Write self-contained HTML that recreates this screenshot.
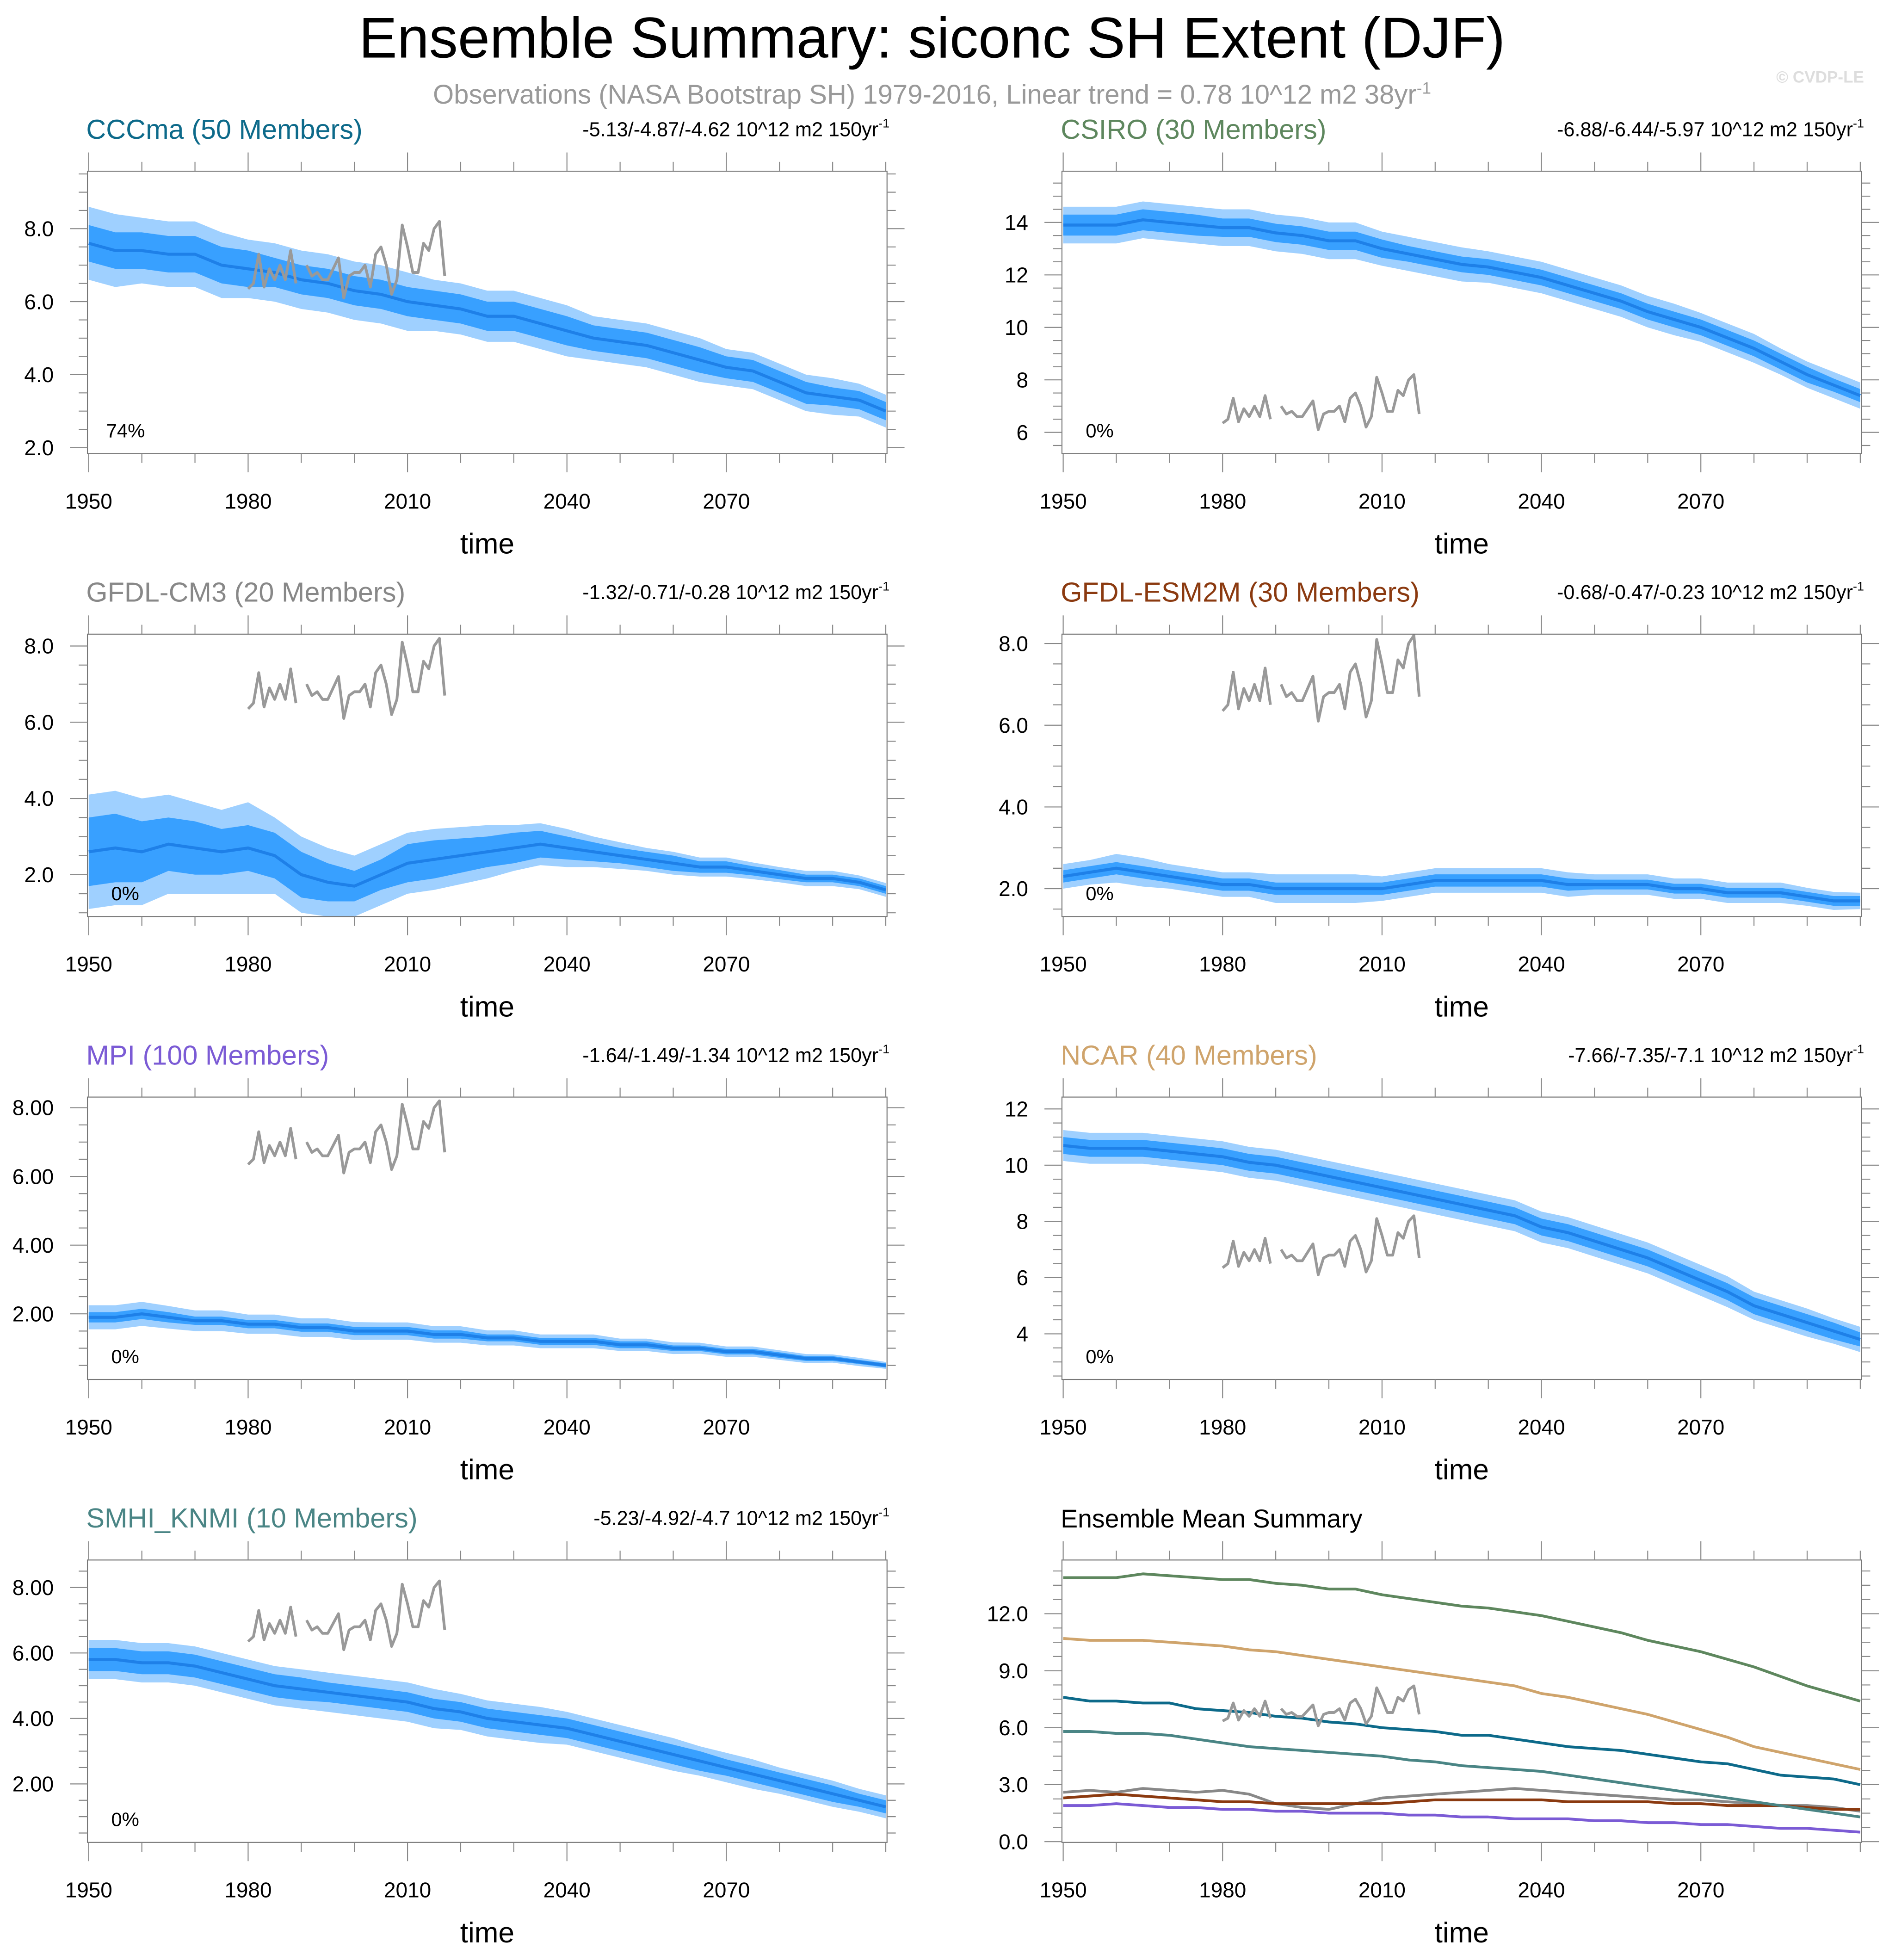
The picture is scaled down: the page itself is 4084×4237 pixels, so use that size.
<!DOCTYPE html>
<html><head><meta charset="utf-8"><style>
html,body{margin:0;padding:0;background:#fff;}
svg{display:block;font-family:"Liberation Sans",sans-serif;}
</style></head><body>
<svg id="chart" width="4084" height="4237" viewBox="0 0 1512 1568.6" xmlns="http://www.w3.org/2000/svg">
<rect x="0" y="0" width="1512" height="1568.6" fill="#fff"/>
<text x="746" y="46" font-size="46" text-anchor="middle" fill="#000">Ensemble Summary: siconc SH Extent (DJF)</text>
<text x="746" y="83" font-size="21.5" text-anchor="middle" fill="#999">Observations (NASA Bootstrap SH) 1979-2016, Linear trend = 0.78 10^12 m2 38yr<tspan dy="-8" font-size="13">-1</tspan></text>
<text x="1492" y="66" font-size="13" font-weight="bold" text-anchor="end" fill="#ddd">© CVDP-LE</text>
<g id="panels"></g>
</svg>
<script>
// 5-year sampled values, 1950..2100
const years5 = [1950,1955,1960,1965,1970,1975,1980,1985,1990,1995,2000,2005,2010,2015,2020,2025,2030,2035,2040,2045,2050,2055,2060,2065,2070,2075,2080,2085,2090,2095,2100];
const cccmaMean = [7.6,7.4,7.4,7.3,7.3,7.0,6.9,6.8,6.6,6.5,6.3,6.2,6.0,5.9,5.8,5.6,5.6,5.4,5.2,5.0,4.9,4.8,4.6,4.4,4.2,4.1,3.8,3.5,3.4,3.3,3.0];
const csiroMean = [13.9,13.9,13.9,14.1,14.0,13.9,13.8,13.8,13.6,13.5,13.3,13.3,13.0,12.8,12.6,12.4,12.3,12.1,11.9,11.6,11.3,11.0,10.6,10.3,10.0,9.6,9.2,8.7,8.2,7.8,7.4];
const gfdlcm3Mean = [2.6,2.7,2.6,2.8,2.7,2.6,2.7,2.5,2.0,1.8,1.7,2.0,2.3,2.4,2.5,2.6,2.7,2.8,2.7,2.6,2.5,2.4,2.3,2.2,2.2,2.1,2.0,1.9,1.9,1.8,1.6];
const gfdlesmMean = [2.3,2.4,2.5,2.4,2.3,2.2,2.1,2.1,2.0,2.0,2.0,2.0,2.0,2.1,2.2,2.2,2.2,2.2,2.2,2.1,2.1,2.1,2.1,2.0,2.0,1.9,1.9,1.9,1.8,1.7,1.7];
const mpiMean = [1.9,1.9,2.0,1.9,1.8,1.8,1.7,1.7,1.6,1.6,1.5,1.5,1.5,1.4,1.4,1.3,1.3,1.2,1.2,1.2,1.1,1.1,1.0,1.0,0.9,0.9,0.8,0.7,0.7,0.6,0.5];
const ncarMean = [10.7,10.6,10.6,10.6,10.5,10.4,10.3,10.1,10.0,9.8,9.6,9.4,9.2,9.0,8.8,8.6,8.4,8.2,7.8,7.6,7.3,7.0,6.7,6.3,5.9,5.5,5.0,4.7,4.4,4.1,3.8];
const smhiMean = [5.8,5.8,5.7,5.7,5.6,5.4,5.2,5.0,4.9,4.8,4.7,4.6,4.5,4.3,4.2,4.0,3.9,3.8,3.7,3.5,3.3,3.1,2.9,2.7,2.5,2.3,2.1,1.9,1.7,1.5,1.3];
const cccmaInner = [0.5,0.5,0.5,0.5,0.5,0.5,0.5,0.4,0.4,0.4,0.4,0.4,0.4,0.4,0.4,0.4,0.4,0.4,0.4,0.35,0.35,0.35,0.35,0.35,0.3,0.3,0.3,0.3,0.25,0.25,0.25];
const cccmaOuter = [1.0,1.0,0.9,0.9,0.9,0.9,0.8,0.8,0.8,0.8,0.8,0.8,0.8,0.7,0.7,0.7,0.7,0.7,0.7,0.6,0.6,0.6,0.6,0.6,0.5,0.5,0.5,0.5,0.5,0.45,0.45];
const csiroInner = [0.4,0.4,0.4,0.4,0.4,0.4,0.35,0.35,0.35,0.35,0.35,0.35,0.35,0.3,0.3,0.3,0.3,0.3,0.3,0.3,0.3,0.3,0.3,0.3,0.3,0.3,0.3,0.3,0.3,0.25,0.25];
const csiroOuter = [0.7,0.7,0.7,0.7,0.7,0.7,0.7,0.7,0.7,0.7,0.7,0.7,0.65,0.65,0.65,0.65,0.6,0.6,0.6,0.6,0.6,0.6,0.6,0.6,0.55,0.55,0.55,0.5,0.5,0.5,0.5];
const gfdlcm3Inner = [0.9,0.9,0.8,0.7,0.7,0.6,0.6,0.6,0.6,0.5,0.4,0.4,0.5,0.5,0.45,0.4,0.4,0.35,0.3,0.25,0.2,0.2,0.2,0.15,0.15,0.12,0.12,0.1,0.1,0.1,0.1];
const gfdlcm3Outer = [1.5,1.5,1.4,1.3,1.2,1.1,1.2,1.0,1.0,0.9,0.8,0.8,0.8,0.8,0.75,0.7,0.6,0.55,0.5,0.4,0.35,0.3,0.3,0.25,0.25,0.22,0.2,0.2,0.2,0.18,0.18];
const gfdlesmInner = [0.15,0.15,0.15,0.15,0.15,0.15,0.15,0.15,0.15,0.15,0.15,0.15,0.15,0.15,0.15,0.15,0.15,0.15,0.15,0.15,0.12,0.12,0.12,0.12,0.12,0.12,0.12,0.12,0.12,0.12,0.12];
const gfdlesmOuter = [0.3,0.3,0.35,0.35,0.3,0.3,0.3,0.3,0.35,0.35,0.35,0.35,0.3,0.3,0.3,0.3,0.3,0.3,0.3,0.3,0.25,0.25,0.25,0.25,0.25,0.25,0.25,0.25,0.22,0.22,0.2];
const mpiInner = [0.15,0.15,0.15,0.15,0.12,0.12,0.12,0.12,0.12,0.12,0.12,0.12,0.12,0.12,0.12,0.1,0.1,0.1,0.1,0.1,0.1,0.1,0.08,0.08,0.08,0.08,0.08,0.07,0.07,0.06,0.06];
const mpiOuter = [0.35,0.35,0.35,0.33,0.3,0.3,0.28,0.28,0.27,0.27,0.26,0.25,0.25,0.24,0.24,0.22,0.22,0.2,0.2,0.2,0.18,0.18,0.17,0.16,0.15,0.15,0.14,0.13,0.12,0.12,0.1];
const ncarInner = [0.3,0.3,0.3,0.3,0.3,0.3,0.3,0.3,0.3,0.3,0.3,0.3,0.3,0.3,0.3,0.3,0.3,0.3,0.3,0.3,0.3,0.3,0.3,0.3,0.3,0.3,0.3,0.3,0.3,0.3,0.25];
const ncarOuter = [0.55,0.55,0.55,0.55,0.55,0.55,0.55,0.55,0.55,0.55,0.55,0.55,0.55,0.55,0.55,0.55,0.55,0.55,0.55,0.55,0.55,0.55,0.55,0.55,0.55,0.55,0.5,0.5,0.5,0.45,0.45];
const smhiInner = [0.35,0.35,0.35,0.35,0.35,0.35,0.35,0.35,0.35,0.3,0.3,0.3,0.3,0.3,0.3,0.3,0.3,0.3,0.3,0.3,0.3,0.3,0.3,0.3,0.25,0.25,0.25,0.25,0.25,0.2,0.2];
const smhiOuter = [0.6,0.6,0.6,0.6,0.6,0.6,0.6,0.6,0.6,0.6,0.6,0.6,0.6,0.6,0.55,0.55,0.55,0.55,0.5,0.5,0.5,0.5,0.5,0.45,0.45,0.45,0.4,0.4,0.4,0.35,0.35];
// observations (DJF year labels, null = missing)
const obsYears = [1980,1981,1982,1983,1984,1985,1986,1987,1988,1989,1990,1991,1992,1993,1994,1995,1996,1997,1998,1999,2000,2001,2002,2003,2004,2005,2006,2007,2008,2009,2010,2011,2012,2013,2014,2015,2016,2017];
const obsValues = [6.35,6.5,7.3,6.4,6.9,6.6,7.0,6.6,7.4,6.5,null,7.0,6.7,6.8,6.6,6.6,6.9,7.2,6.1,6.7,6.8,6.8,7.0,6.4,7.3,7.5,7.0,6.2,6.6,8.1,7.5,6.8,6.8,7.6,7.4,8.0,8.2,6.7];
const xTickYears = [1950,1980,2010,2040,2070];

const NS = "http://www.w3.org/2000/svg";
const root = document.getElementById('panels');
function el(tag, attrs, parent, text){
  const e = document.createElementNS(NS, tag);
  for (const k in attrs) e.setAttribute(k, attrs[k]);
  if (text !== undefined) e.textContent = text;
  (parent || root).appendChild(e);
  return e;
}
const COLS = [70, 850];
const ROW0 = 137, ROWSTEP = 370.5, BW = 640, BH = 226;

const panels = [
 {name:'cccma', title:'CCCma (50 Members)', color:'#0d6a8a', trend:'-5.13/-4.87/-4.62 10^12 m2 150yr', mean:cccmaMean, inner:cccmaInner, outer:cccmaOuter, refV:8, refY:46, k:29.2, ticks:[2,4,6,8], dec:1, minor:0.5, pct:'74%'},
 {name:'csiro', title:'CSIRO (30 Members)', color:'#5e875e', trend:'-6.88/-6.44/-5.97 10^12 m2 150yr', mean:csiroMean, inner:csiroInner, outer:csiroOuter, refV:14, refY:41, k:21, ticks:[6,8,10,12,14], dec:0, minor:0.5, pct:'0%'},
 {name:'gfdl-cm3', title:'GFDL-CM3 (20 Members)', color:'#888888', trend:'-1.32/-0.71/-0.28 10^12 m2 150yr', mean:gfdlcm3Mean, inner:gfdlcm3Inner, outer:gfdlcm3Outer, refV:8, refY:9.5, k:30.5, ticks:[2,4,6,8], dec:1, minor:0.5, pct:'0%'},
 {name:'gfdl-esm2m', title:'GFDL-ESM2M (30 Members)', color:'#8b3a10', trend:'-0.68/-0.47/-0.23 10^12 m2 150yr', mean:gfdlesmMean, inner:gfdlesmInner, outer:gfdlesmOuter, refV:8, refY:7.5, k:32.7, ticks:[2,4,6,8], dec:1, minor:0.5, pct:'0%'},
 {name:'mpi', title:'MPI (100 Members)', color:'#7b5bd5', trend:'-1.64/-1.49/-1.34 10^12 m2 150yr', mean:mpiMean, inner:mpiInner, outer:mpiOuter, refV:8, refY:8.5, k:27.5, ticks:[2,4,6,8], dec:2, minor:0.5, pct:'0%'},
 {name:'ncar', title:'NCAR (40 Members)', color:'#cfa46c', trend:'-7.66/-7.35/-7.1 10^12 m2 150yr', mean:ncarMean, inner:ncarInner, outer:ncarOuter, refV:12, refY:9.5, k:22.5, ticks:[4,6,8,10,12], dec:0, minor:0.5, pct:'0%'},
 {name:'smhi-knmi', title:'SMHI_KNMI (10 Members)', color:'#4a8585', trend:'-5.23/-4.92/-4.7 10^12 m2 150yr', mean:smhiMean, inner:smhiInner, outer:smhiOuter, refV:8, refY:22, k:26.2, ticks:[2,4,6,8], dec:2, minor:0.5, pct:'0%'},
 {name:'summary', title:'Ensemble Mean Summary', color:'#000', summary:true, refV:12, refY:43, k:15.2, ticks:[0,3,6,9,12], dec:1, minor:0.75}
];

panels.forEach((p, i) => {
  const bx = COLS[i % 2], by = ROW0 + ROWSTEP * Math.floor(i / 2);
  const g = el('g', {});
  
  
  const X = yr => bx + 1 + (yr - 1950) / 150 * (BW - 2);
  const Y = v => by + p.refY + (p.refV - v) * p.k;
  const vMin = p.refV - (BH - p.refY) / p.k, vMax = p.refV + p.refY / p.k;
  const clip = 'clip' + i;
  const cp = el('clipPath', {id: clip}, g);
  el('rect', {x: bx, y: by, width: BW, height: BH}, cp);
  const pg = el('g', {'clip-path': 'url(#' + clip + ')'}, g);

  if (!p.summary) {
    const band = (w, col, nm) => {
      let up = years5.map((y, j) => X(y).toFixed(2) + ',' + Y(p.mean[j] + w[j]).toFixed(2));
      let dn = years5.map((y, j) => X(y).toFixed(2) + ',' + Y(p.mean[j] - w[j]).toFixed(2)).reverse();
      const b = el('polygon', {points: up.concat(dn).join(' '), fill: col}, pg);
      
      
    };
    band(p.outer, '#9fd0ff', 'outer-spread-band');
    band(p.inner, '#38a0ff', 'inner-spread-band');
    const m = el('polyline', {points: years5.map((y, j) => X(y).toFixed(2) + ',' + Y(p.mean[j]).toFixed(2)).join(' '), fill: 'none', stroke: '#1e80e8', 'stroke-width': 2.4, 'stroke-linejoin': 'round'}, pg);
    
    
  } else {
    panels.slice(0, 7).forEach(q => {
      const l = el('polyline', {points: years5.map((y, j) => X(y).toFixed(2) + ',' + Y(q.mean[j]).toFixed(2)).join(' '), fill: 'none', stroke: q.color, 'stroke-width': 2.2, 'stroke-linejoin': 'round'}, pg);
      
      
    });
  }
  let segs = [], cur = [];
  obsYears.forEach((y, j) => {
    if (obsValues[j] === null) { if (cur.length) segs.push(cur); cur = []; }
    else cur.push(X(y).toFixed(2) + ',' + Y(obsValues[j]).toFixed(2));
  });
  if (cur.length) segs.push(cur);
  segs.forEach(s => {
    const o = el('polyline', {points: s.join(' '), fill: 'none', stroke: '#999', 'stroke-width': 2.2, 'stroke-linejoin': 'round'}, pg);
    
    
  });

  const fr = el('rect', {x: bx, y: by, width: BW, height: BH, fill: 'none', stroke: '#777', 'stroke-width': 0.8}, g);
  
  
  for (let yr = 1950; yr <= 2100; yr += 10) {
    const major = (yr - 1950) % 30 === 0 && yr <= 2070;
    const len = major ? 15 : 7.5;
    el('line', {x1: X(yr), x2: X(yr), y1: by + BH, y2: by + BH + len, stroke: '#888', 'stroke-width': 0.8}, g);
    el('line', {x1: X(yr), x2: X(yr), y1: by, y2: by - len, stroke: '#888', 'stroke-width': 0.8}, g);
  }
  xTickYears.forEach(yr => {
    const t = el('text', {x: X(yr), y: by + BH + 44, 'font-size': 17, 'text-anchor': 'middle'}, g, String(yr));
    
    
  });
  const start = Math.ceil(vMin / p.minor) * p.minor;
  for (let v = start; v <= vMax + 1e-6; v += p.minor) {
    const isMajor = p.ticks.some(t => Math.abs(t - v) < 1e-6);
    const len = isMajor ? 14 : 7;
    el('line', {x1: bx - len, x2: bx, y1: Y(v), y2: Y(v), stroke: '#888', 'stroke-width': 0.8}, g);
    el('line', {x1: bx + BW, x2: bx + BW + len, y1: Y(v), y2: Y(v), stroke: '#888', 'stroke-width': 0.8}, g);
  }
  p.ticks.forEach(v => {
    const t = el('text', {x: bx - 27, y: Y(v) + 6, 'font-size': 17, 'text-anchor': 'end'}, g, v.toFixed(p.dec));
    
    
  });
  const xt = el('text', {x: bx + BW / 2, y: by + BH + 80, 'font-size': 23, 'text-anchor': 'middle'}, g, 'time');
  
  
  const tt = el('text', {x: bx - 1, y: by - 26, 'font-size': p.summary ? 20.5 : 22, fill: p.color}, g, p.title);
  
  
  if (p.trend) {
    const tr = el('text', {x: bx + BW + 2, y: by - 28, 'font-size': 16, 'text-anchor': 'end'}, g, p.trend);
    el('tspan', {dy: -7, 'font-size': 10}, tr, '-1');
    
    
    const pc = el('text', {x: bx + 15 + (p.pct.length > 2 ? 0 : 4), y: by + 213, 'font-size': 15.5}, g, p.pct);
    
    
  }
});
</script>
</body></html>
